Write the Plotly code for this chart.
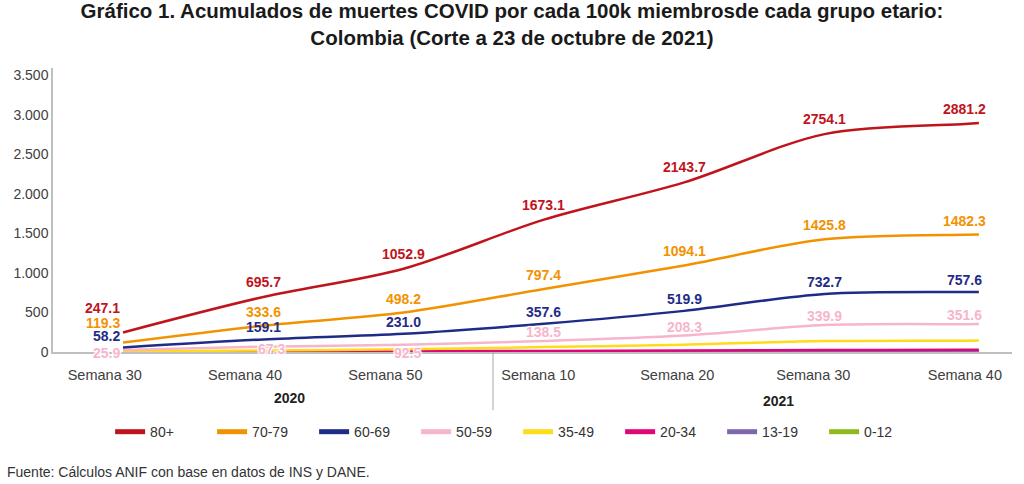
import plotly.graph_objects as go

# posicion de cada punto sobre el eje (una unidad = un tramo de 10 semanas);
# el ultimo punto es el cierre de la serie (23 de octubre de 2021)
periodo = [0, 1, 2, 3, 4, 5, 6, 6.1]

semanas = ["Semana 30", "Semana 40", "Semana 50",
           "Semana 10", "Semana 20", "Semana 30", "Semana 40"]
anios = ["2020", "2021"]

grupos = ["80+", "70-79", "60-69", "50-59", "35-49", "20-34", "13-19", "0-12"]

g80 = [247.1, 695.7, 1052.9, 1673.1, 2143.7, 2754.1, 2881.2, 2895.0]
g70 = [119.3, 333.6, 498.2, 797.4, 1094.1, 1425.8, 1482.3, 1485.0]
g60 = [58.2, 159.1, 231.0, 357.6, 519.9, 732.7, 757.6, 758.5]
g50 = [25.9, 67.3, 92.5, 138.5, 208.3, 339.9, 351.6, 352.5]
g35 = [7.0, 20.0, 34.0, 62.0, 92.0, 138.0, 143.0, 144.0]
g20 = [2.0, 5.0, 9.0, 14.0, 19.0, 25.0, 27.0, 27.0]
g13 = [0.5, 1.0, 1.5, 2.5, 3.5, 5.0, 5.5, 5.5]
g00 = [0.3, 0.6, 1.0, 1.5, 2.0, 3.0, 3.2, 3.3]

series = [g80, g70, g60, g50, g35, g20, g13, g00]
colores = ["#C0141C", "#F39200", "#1F2C87", "#F7B5CC",
           "#FDDC1A", "#E0067A", "#7F67AE", "#8DBA1E"]

fuente = "Fuente: Cálculos ANIF con base en datos de INS y DANE."
titulo = ("<b>Gráfico 1. Acumulados de muertes COVID por cada 100k miembrosde cada grupo etario:"
          "<br>Colombia (Corte a 23 de octubre de 2021)</b>")

FONT = "Liberation Sans, Arial, sans-serif"

fig = go.Figure()

# las series pequenas abajo, las grandes encima
for nombre, vals, color in reversed(list(zip(grupos, series, colores))):
    fig.add_trace(go.Scatter(
        x=periodo, y=vals, name=nombre, mode="lines",
        line=dict(color=color, width=2.5, shape="spline", smoothing=0.9),
        showlegend=False, hoverinfo="skip",
    ))

# entradas de la leyenda con trazo grueso
for nombre, color in zip(grupos, colores):
    fig.add_trace(go.Scatter(
        x=[None], y=[None], name=nombre, mode="lines",
        line=dict(color=color, width=5),
    ))

# etiquetas de datos (solo los cuatro grupos mayores)
# (desplazamiento del primer punto, desplazamiento del resto)
desplaz = {"80+": (24, 15), "70-79": (20, 14), "60-69": (11, 12), "50-59": (-3, 9)}
halo = "1px 1px 1px #fff, -1px -1px 1px #fff, 1px -1px 1px #fff, -1px 1px 1px #fff"

anots = []
for nombre, vals, color in zip(grupos, series, colores):
    if nombre not in desplaz:
        continue
    d0, d = desplaz[nombre]
    for i, v in enumerate(vals[:7]):
        a = dict(x=periodo[i], y=v, xref="x", yref="y", text=f"{v:.1f}",
                 showarrow=False, yanchor="middle",
                 font=dict(family=FONT, size=14, color=color, weight="bold"))
        if i == 0:
            a.update(xanchor="right", xshift=-1, yshift=d0)
        else:
            a.update(xanchor="center", yshift=d)
        if nombre == "50-59":
            a["font"]["shadow"] = halo
            if i == 1:
                a.update(yshift=-2, xshift=8)
            elif i == 2:
                a.update(yshift=-8, xshift=4)
        anots.append(a)

# anios bajo el eje
anots.append(dict(x=1.19, y=-0.162, xref="x", yref="paper", text="<b>2020</b>",
                  showarrow=False, yanchor="middle",
                  font=dict(family=FONT, size=14, color="#222")))
anots.append(dict(x=4.67, y=-0.172, xref="x", yref="paper", text="<b>2021</b>",
                  showarrow=False, yanchor="middle",
                  font=dict(family=FONT, size=14, color="#222")))
anots.append(dict(x=-0.05, y=-0.4225, xref="paper", yref="paper", text=fuente,
                  xanchor="left", yanchor="middle", showarrow=False,
                  font=dict(family=FONT, size=14, color="#333")))

fig.update_layout(
    width=1024, height=484,
    margin=dict(l=53, r=12, t=68, b=132),
    paper_bgcolor="white", plot_bgcolor="white",
    separators=",.",
    font=dict(family=FONT, size=14, color="#404040"),
    title=dict(text=titulo, x=0.5, xanchor="center", y=0.963, yanchor="top",
               font=dict(family=FONT, size=20.5, color="#1a1a1a")),
    legend=dict(orientation="h", x=0.485, xanchor="center", y=-0.282, yanchor="middle",
                font=dict(family=FONT, size=14, color="#333"),
                entrywidth=57, entrywidthmode="pixels"),
    annotations=anots,
    shapes=[dict(type="line", xref="x", yref="paper", x0=2.637, x1=2.637,
                 y0=0, y1=-0.205, line=dict(color="#A6A6A6", width=1))],
)

fig.update_xaxes(
    range=[-0.499, 6.336], showgrid=False, zeroline=False,
    showline=True, linecolor="#BFBFBF", linewidth=1.5,
    tickmode="array", tickvals=[-0.13, 0.87, 1.87, 2.96, 3.95, 4.92, 6.0],
    ticktext=semanas, ticks="", tickfont=dict(size=14.5, color="#404040"),
    ticklabelstandoff=9,
)
fig.update_yaxes(
    range=[0, 3590], showgrid=False, zeroline=False,
    showline=True, linecolor="#BFBFBF", linewidth=1.5,
    tickmode="array", tickvals=[0, 500, 1000, 1500, 2000, 2500, 3000, 3500],
    tickformat=",d", ticks="", tickfont=dict(size=14, color="#404040"),
)

# sin margen del body para que la figura ocupe la ventana desde la esquina
fig.write_html("out.html", config={"displayModeBar": False},
               post_script="document.body.style.margin='0';")
